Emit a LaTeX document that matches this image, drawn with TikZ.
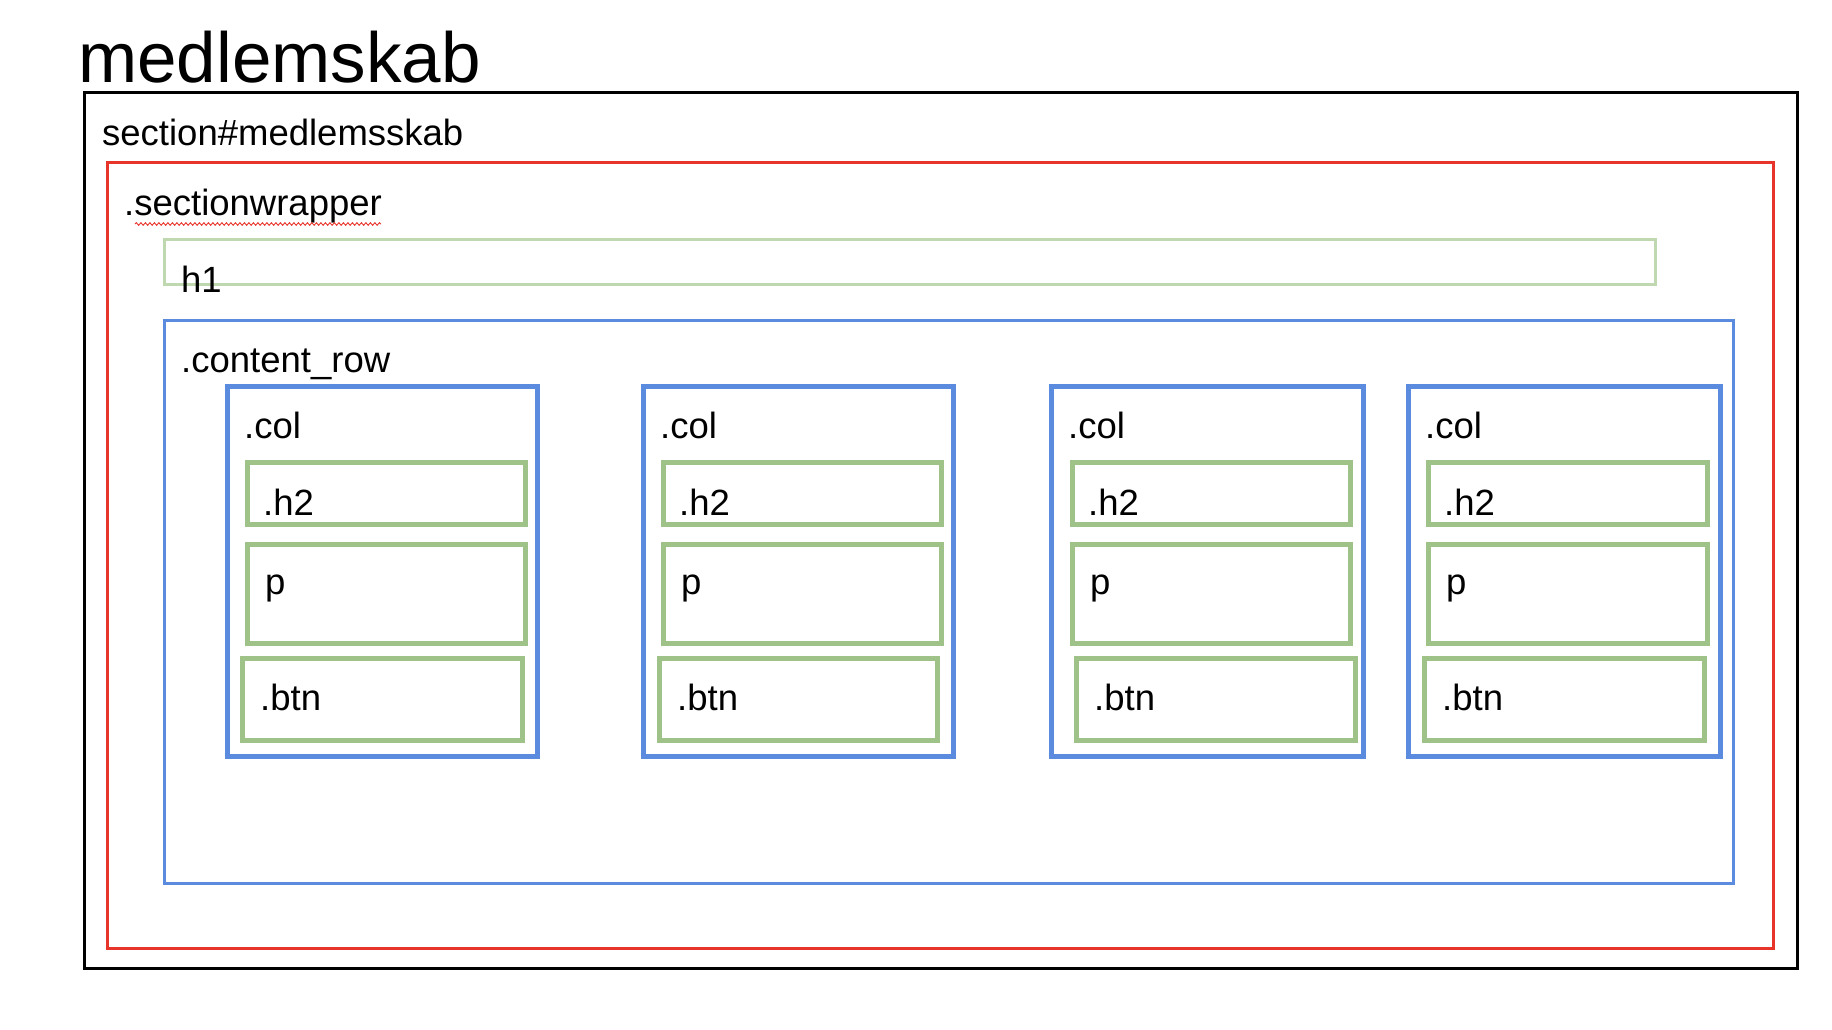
\documentclass[tikz,border=0pt]{standalone}
\usepackage{fontspec}
\setmainfont{Liberation Sans}
\usetikzlibrary{decorations.pathmorphing}
\definecolor{cred}{HTML}{E8352B}
\definecolor{cblue}{HTML}{5B8BDF}
\definecolor{cgreen}{HTML}{9EC287}
\definecolor{clgreen}{HTML}{BFD8B0}
\tikzset{
  lbl/.style={inner sep=0pt, anchor=base west, font=\fontsize{36.5}{42}\selectfont},
  blackbox/.style={draw=black, line width=3pt},
  redbox/.style={draw=cred, line width=3pt},
  h1box/.style={draw=clgreen, line width=3pt},
  rowbox/.style={draw=cblue, line width=3pt},
  colbox/.style={draw=cblue, line width=5pt},
  gbox/.style={draw=cgreen, line width=5pt},
}
\begin{document}
\begin{tikzpicture}[x=1pt, y=-1pt]
\useasboundingbox[fill=white] (0,0) rectangle (1832,1030);

% title
\node[inner sep=0pt, anchor=base west, font=\fontsize{71}{80}\selectfont] (title) at (78,83) {medlemskab};

% outer section
\draw[blackbox] (84,93) rectangle (1797,968);
\node[lbl] (section) at (102,146) {section\#medlemsskab};

% sectionwrapper
\draw[redbox] (107,163) rectangle (1773,948);
\node[lbl] (wrapper) at (124,215) {.sectionwrapper};
\draw[cred, line width=0.9pt, decorate, decoration={snake, amplitude=1.3pt, segment length=4.5pt}] (135,224) -- (381,224);

% h1
\draw[h1box] (164,239) rectangle (1655,284);
\node[lbl] (h1) at (181,292) {h1};

% content row
\draw[rowbox] (164,320) rectangle (1733,883);
\node[lbl] (row) at (181,372) {.content\_row};

% columns
\foreach \i/\cl/\cr/\gl/\gr/\bl/\br in {1/227/537/247/525/242/522, 2/643/953/663/941/659/937, 3/1051/1363/1072/1350/1076/1355, 4/1408/1720/1428/1707/1424/1704}{
  \draw[colbox] (\cl,386) rectangle (\cr,756);
  \node[lbl] (col\i) at (\cl+17,438) {.col};
  \draw[gbox] (\gl,462) rectangle (\gr,524);
  \node[lbl] (htwo\i) at (\gl+16,515) {.h2};
  \draw[gbox] (\gl,544) rectangle (\gr,643);
  \node[lbl] (p\i) at (\gl+18,594) {p};
  \draw[gbox] (\bl,658) rectangle (\br,740);
  \node[lbl] (btn\i) at (\bl+18,710) {.btn};
}
\end{tikzpicture}
\end{document}
